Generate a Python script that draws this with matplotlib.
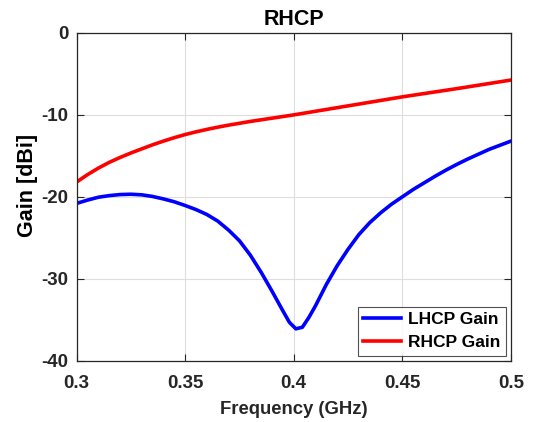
import matplotlib
matplotlib.use("Agg")
import matplotlib.pyplot as plt

plt.rcParams['font.family'] = ['Liberation Sans', 'DejaVu Sans']
plt.rcParams['font.weight'] = 'bold'
plt.rcParams['axes.unicode_minus'] = False

# LHCP gain (blue)
freq_lhcp = [0.300, 0.305, 0.310, 0.315, 0.320, 0.325, 0.330, 0.335, 0.340,
             0.345, 0.350, 0.355, 0.360, 0.365, 0.370, 0.375, 0.380, 0.385,
             0.390, 0.395, 0.398, 0.401, 0.404, 0.407, 0.410, 0.415, 0.420,
             0.425, 0.430, 0.435, 0.440, 0.445, 0.450, 0.455, 0.460, 0.465,
             0.470, 0.475, 0.480, 0.485, 0.490, 0.495, 0.500]
gain_lhcp = [-20.8, -20.4, -20.05, -19.85, -19.72, -19.68, -19.75, -19.95, -20.25,
             -20.6, -21.05, -21.55, -22.15, -22.95, -24.05, -25.35, -27.1, -29.2,
             -31.5, -33.9, -35.3, -36.1, -35.9, -34.7, -33.3, -30.7, -28.4,
             -26.4, -24.6, -23.15, -21.95, -20.9, -20.0, -19.1, -18.3, -17.5,
             -16.75, -16.05, -15.4, -14.8, -14.2, -13.7, -13.2]

# RHCP gain (red)
freq_rhcp = [0.300, 0.305, 0.310, 0.315, 0.320, 0.325, 0.330, 0.335, 0.340,
             0.345, 0.350, 0.355, 0.360, 0.365, 0.370, 0.380, 0.390, 0.400,
             0.425, 0.450, 0.475, 0.500]
gain_rhcp = [-18.2, -17.3, -16.5, -15.8, -15.2, -14.65, -14.15, -13.65, -13.2,
             -12.78, -12.4, -12.07, -11.77, -11.5, -11.25, -10.8, -10.4, -10.0,
             -8.9, -7.8, -6.8, -5.75]

fig = plt.figure(figsize=(5.35, 4.22), dpi=100)
ax = fig.add_axes([0.143, 0.145, 0.812, 0.777])

ax.plot(freq_lhcp, gain_lhcp, color='#0000ff', lw=2.6, label='LHCP Gain')
ax.plot(freq_rhcp, gain_rhcp, color='#ff0000', lw=2.6, label='RHCP Gain')

ax.set_xlim(0.3, 0.5)
ax.set_ylim(-40, 0)
ax.set_xticks([0.3, 0.35, 0.4, 0.45, 0.5])
ax.set_xticklabels(['0.3', '0.35', '0.4', '0.45', '0.5'])
ax.set_yticks([-40, -30, -20, -10, 0])
ax.grid(True, color='#dedede', lw=0.8)
ax.set_axisbelow(True)
ax.tick_params(direction='in', top=True, right=True, labelsize=13.5,
               colors='#262626', labelcolor='#262626', length=5)
ax.tick_params(axis='x', pad=10)
ax.tick_params(axis='y', pad=6)
for s in ax.spines.values():
    s.set_color('#262626')
    s.set_linewidth(0.9)

ax.set_title('RHCP', fontsize=15.5, fontweight='bold', pad=6)
ax.set_xlabel('Frequency (GHz)', fontsize=13.3, fontweight='bold', color='#262626',
              labelpad=7)
ax.set_ylabel('Gain [dBi]', fontsize=15.5, fontweight='bold')
ax.yaxis.set_label_coords(-0.088, 0.534)

leg = ax.legend(loc='lower right', fontsize=12.5, frameon=True, fancybox=False,
                edgecolor='#262626', handlelength=2.2, borderaxespad=0.3,
                borderpad=0.3, labelspacing=0.45, handletextpad=0.4)
leg.get_frame().set_linewidth(0.8)

fig.savefig('out.png', dpi=100)
